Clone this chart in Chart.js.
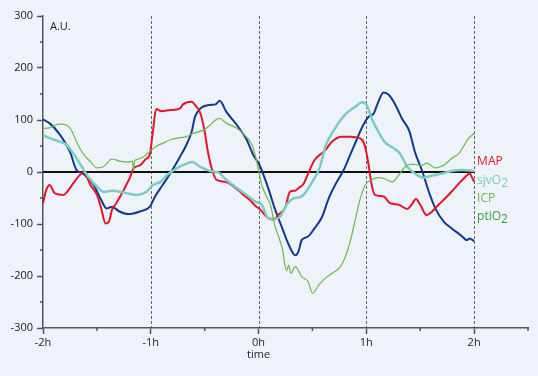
<!DOCTYPE html>
<html><head><meta charset="utf-8">
<script src="https://cdn.jsdelivr.net/npm/chart.js@4"></script>
<style>html,body{margin:0;padding:0;background:#eef3fa;}#wrap{width:538px;height:376px;}</style>
</head><body><div id="wrap"><canvas id="c" width="538" height="376"></canvas></div>
<script>
// time in hours
const blueT = [-2,-1.94,-1.84,-1.75,-1.69,-1.63,-1.53,-1.46,-1.41,-1.36,-1.29,-1.21,-1.10,-1.01,-0.96,-0.91,-0.87,-0.82,-0.73,-0.67,-0.62,-0.59,-0.54,-0.45,-0.40,-0.36,-0.30,-0.20,-0.11,-0.05,0.01,0.05,0.09,0.15,0.22,0.28,0.34,0.37,0.40,0.46,0.52,0.59,0.65,0.71,0.79,0.85,0.91,0.97,1.02,1.07,1.10,1.16,1.21,1.27,1.33,1.40,1.45,1.52,1.58,1.64,1.72,1.79,1.89,1.93,1.96,2.0];
const blueV = [101,94,71,39,4,-3,-25,-54,-70,-67,-76,-81,-76,-67,-47,-31,-19,-3,29,52,78,106,122,129,130,137,116,90,62,33,13,-8,-31,-70,-108,-140,-160,-153,-131,-124,-108,-86,-51,-25,4,33,62,90,106,113,129,153,148,129,103,78,39,1,-38,-70,-96,-108,-124,-131,-128,-133];
const mapT = [-2,-1.97,-1.94,-1.89,-1.81,-1.78,-1.72,-1.66,-1.62,-1.56,-1.50,-1.46,-1.42,-1.39,-1.36,-1.32,-1.26,-1.19,-1.16,-1.10,-1.04,-1.01,-0.98,-0.95,-0.90,-0.82,-0.73,-0.70,-0.62,-0.59,-0.54,-0.50,-0.47,-0.43,-0.39,-0.31,-0.23,-0.14,-0.08,-0.02,0.01,0.09,0.14,0.18,0.25,0.29,0.34,0.37,0.42,0.46,0.52,0.62,0.68,0.77,0.85,0.90,0.96,0.99,1.02,1.05,1.08,1.16,1.22,1.30,1.38,1.42,1.46,1.50,1.56,1.61,1.67,1.73,1.79,1.86,1.92,1.96,1.97,2.0];
const mapV = [-60,-35,-25,-41,-44,-39,-22,-6,-1,-25,-44,-70,-99,-96,-73,-60,-38,-9,7,13,26,33,78,121,117,119,122,130,135,129,113,78,39,4,-15,-19,-28,-44,-54,-67,-71,-89,-92,-83,-67,-38,-36,-31,-22,-3,23,42,58,68,68,67,62,47,15,-25,-44,-47,-60,-63,-71,-63,-52,-63,-83,-76,-63,-51,-38,-22,-9,-3,-6,-19];
const sjvT = [-2,-1.94,-1.84,-1.78,-1.72,-1.64,-1.58,-1.50,-1.44,-1.35,-1.26,-1.13,-1.04,-0.98,-0.91,-0.85,-0.76,-0.68,-0.62,-0.54,-0.45,-0.37,-0.30,-0.20,-0.11,-0.03,0.03,0.09,0.15,0.20,0.26,0.32,0.40,0.49,0.57,0.62,0.71,0.80,0.90,0.96,1.00,1.05,1.11,1.17,1.25,1.31,1.38,1.45,1.53,1.61,1.70,1.79,1.89,2.0];
const sjvV = [71,65,58,52,36,10,-9,-28,-38,-36,-39,-44,-38,-25,-19,-6,7,15,19,10,2,-1,-15,-31,-44,-57,-63,-89,-90,-86,-63,-51,-47,-22,10,49,84,110,126,134,130,103,78,58,46,36,10,-3,-11,-7,-3,2,4,2];
const icpT = [-2,-1.94,-1.89,-1.84,-1.78,-1.73,-1.69,-1.63,-1.56,-1.50,-1.44,-1.36,-1.29,-1.21,-1.17,-1.16,-1.15,-1.13,-1.07,-1.01,-0.95,-0.87,-0.82,-0.73,-0.67,-0.61,-0.51,-0.45,-0.40,-0.36,-0.30,-0.20,-0.13,-0.06,-0.02,0.03,0.08,0.11,0.15,0.22,0.26,0.28,0.30,0.34,0.40,0.46,0.50,0.56,0.62,0.68,0.76,0.80,0.85,0.90,0.94,0.99,1.05,1.11,1.17,1.24,1.30,1.36,1.42,1.52,1.56,1.64,1.73,1.79,1.86,1.90,1.95,2.0];
const icpV = [84,85,90,92,90,78,58,36,20,8,10,25,21,19,21,2,21,24,29,39,49,57,62,66,68,74,81,90,100,103,94,84,71,52,23,-25,-50,-63,-102,-147,-190,-179,-195,-182,-201,-211,-233,-217,-204,-195,-182,-166,-134,-89,-54,-25,-15,-11,-13,-19,-6,10,15,13,17,8,15,26,36,49,65,74];
const yTicks = [-300,-200,-100,0,100,200,300];
const xTickLabels = ['-2h','-1h','0h','1h','2h'];
const markerHours = [-1,0,1,2];
const legendItems = [
  {text:'MAP', sub:'', color:'#e3142b'},
  {text:'sjvO', sub:'2', color:'#7ccbc5'},
  {text:'ICP', sub:'', color:'#6cb84f'},
  {text:'ptiO', sub:'2', color:'#3a9a44'}
];

const pts = (t, v) => t.map((x, i) => ({x, y: v[i]}));
const FONT = "'Open Sans', 'Noto Sans', sans-serif";
const AXIS = '#555555';

const decor = {
  id: 'decor',
  beforeDraw(chart) {
    const ctx = chart.ctx;
    ctx.save();
    ctx.fillStyle = '#eef3fa';
    ctx.fillRect(0, 0, chart.width, chart.height);
    ctx.restore();
  },
  beforeDatasetsDraw(chart) {
    const {ctx, chartArea, scales: {x, y}} = chart;
    ctx.save();
    ctx.strokeStyle = '#666';
    ctx.lineWidth = 1;
    ctx.setLineDash([3, 2]);
    markerHours.forEach(h => {
      const px = Math.round(x.getPixelForValue(h)) + 0.5;
      ctx.beginPath();
      ctx.moveTo(px, chartArea.top);
      ctx.lineTo(px, chartArea.bottom);
      ctx.stroke();
    });
    ctx.restore();
  },
  afterDraw(chart) {
    const {ctx, chartArea, scales: {x, y}} = chart;
    ctx.save();
    // minor ticks
    ctx.strokeStyle = AXIS;
    ctx.lineWidth = 1.5;
    for (let v = -250; v <= 250; v += 100) {
      const py = y.getPixelForValue(v);
      ctx.beginPath(); ctx.moveTo(chartArea.left - 3, py); ctx.lineTo(chartArea.left, py); ctx.stroke();
    }
    for (let h = -1.5; h <= 2.5; h += 1) {
      const px = x.getPixelForValue(h);
      ctx.beginPath(); ctx.moveTo(px, chartArea.bottom); ctx.lineTo(px, chartArea.bottom + 3); ctx.stroke();
    }
    ctx.fillStyle = '#222';
    ctx.font = '11px ' + FONT;
    ctx.textBaseline = 'middle';
    ctx.textAlign = 'left';
    ctx.fillText('A.U.', chartArea.left + 7, 27);
    ctx.textAlign = 'center';
    ctx.fillText('time', x.getPixelForValue(0), 355);
    // legend labels
    ctx.textAlign = 'left';
    ctx.font = '12px ' + FONT;
    const lx = x.getPixelForValue(2) + 3;
    const ly = [162, 181, 199, 217];
    legendItems.forEach((it, i) => {
      ctx.fillStyle = it.color;
      ctx.fillText(it.text, lx, ly[i]);
      if (it.sub) {
        const w = ctx.measureText(it.text).width;
        ctx.fillText(it.sub, lx + w, ly[i] + 3);
      }
    });
    ctx.restore();
  }
};

new Chart(document.getElementById('c'), {
  type: 'line',
  data: {
    datasets: [
      {label: 'ICP', data: pts(icpT, icpV), borderColor: '#6cb84f', borderWidth: 1.2},
      {label: 'sjvO2', data: pts(sjvT, sjvV), borderColor: '#7ccbc5', borderWidth: 2.5},
      {label: 'MAP', data: pts(mapT, mapV), borderColor: '#e3142b', borderWidth: 2},
      {label: 'ptiO2', data: pts(blueT, blueV), borderColor: '#123a8c', borderWidth: 2},
      {label: 'zero', data: [{x: -2, y: 0}, {x: 2, y: 0}], borderColor: '#111', borderWidth: 2}
    ]
  },
  options: {
    responsive: false,
    animation: false,
    devicePixelRatio: 1,
    parsing: true,
    elements: {point: {radius: 0}, line: {tension: 0.3, cubicInterpolationMode: 'monotone'}},
    layout: {padding: {top: 16, right: 10, left: 0, bottom: 0}},
    plugins: {legend: {display: false}, tooltip: {enabled: false}},
    scales: {
      x: {
        type: 'linear', min: -2, max: 2.5,
        afterFit(s) { s.height = 48; },
        afterBuildTicks(s) { s.ticks = [-2, -1, 0, 1, 2].map(v => ({value: v})); },
        ticks: {
          callback: (v) => { const i = [-2, -1, 0, 1, 2].indexOf(v); return i >= 0 ? xTickLabels[i] : ''; },
          color: '#222', font: {family: FONT, size: 11}, padding: 2, maxRotation: 0
        },
        grid: {drawOnChartArea: false, drawTicks: true, tickLength: 6, tickColor: AXIS, tickWidth: 1.5},
        border: {display: true, color: AXIS, width: 1.5}
      },
      y: {
        type: 'linear', min: -300, max: 300,
        afterFit(s) { s.width = 43; },
        afterBuildTicks(s) { s.ticks = yTicks.map(v => ({value: v})); },
        ticks: {color: '#222', font: {family: FONT, size: 11}, padding: 4},
        grid: {drawOnChartArea: false, drawTicks: true, tickLength: 6, tickColor: AXIS, tickWidth: 1.5},
        border: {display: true, color: AXIS, width: 1.5}
      }
    }
  },
  plugins: [decor]
});
</script>
</body></html>
